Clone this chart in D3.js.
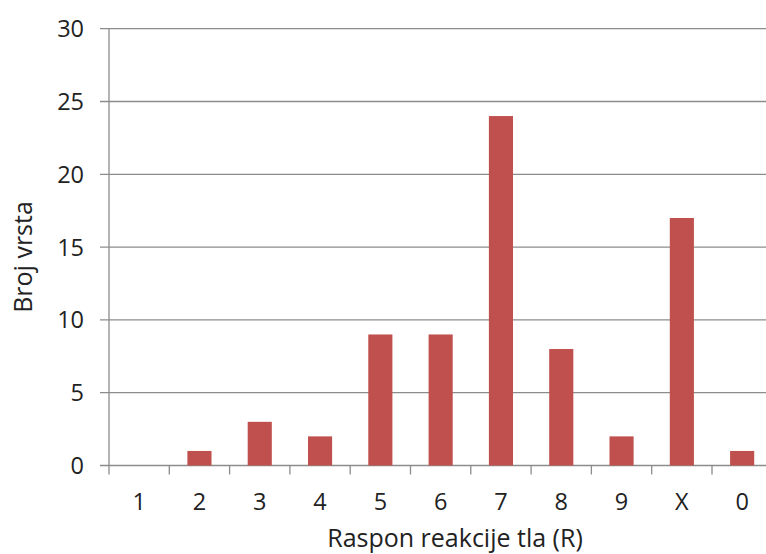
<!DOCTYPE html>
<html><head><meta charset="utf-8">
<script src="https://cdn.jsdelivr.net/npm/d3@7/dist/d3.min.js"></script>
<style>body{margin:0;background:#fff}svg{display:block}text{font-family:"Open Sans",Lato,sans-serif;fill:#222}</style>
</head><body>
<script>
const categories = ["1","2","3","4","5","6","7","8","9","X","0"];
const values = [0,1,3,2,9,9,24,8,2,17,1];
const yTicks = [0,5,10,15,20,25,30];
const xTitle = "Raspon reakcije tla (R)";
const yTitle = "Broj vrsta";

const W = 766, H = 554;
const m = {left:109, top:28.7, right:-6.3, bottom:554-465.5};
const svg = d3.select("body").append("svg").attr("width",W).attr("height",H);
const x = d3.scaleBand().domain(categories).range([m.left, W-m.right]).paddingInner(0.6).paddingOuter(0.3);
const y = d3.scaleLinear().domain([0,30]).range([H-m.bottom, m.top]);
const fs = 23.5, fsT = 25;

// gridlines
svg.append("g").selectAll("line").data(yTicks).join("line")
  .attr("x1", m.left-9).attr("x2", W-m.right).attr("y1", d=>y(d)).attr("y2", d=>y(d))
  .attr("stroke","#8c8c8c").attr("stroke-width",1.3);
// y axis line
svg.append("line").attr("x1",m.left).attr("x2",m.left).attr("y1",y(30)).attr("y2",y(0))
  .attr("stroke","#8c8c8c").attr("stroke-width",1.3);
// y labels
svg.append("g").selectAll("text").data(yTicks).join("text")
  .attr("x",84).attr("y",d=>y(d)).attr("dy","0.36em").attr("text-anchor","end")
  .attr("font-size",fs).text(d=>d);
// x ticks at band boundaries
const step = x.step();
const bounds = d3.range(categories.length+1).map(i=>m.left + i*step);
svg.append("g").selectAll("line").data(bounds).join("line")
  .attr("x1",d=>d).attr("x2",d=>d).attr("y1",y(0)).attr("y2",y(0)+9)
  .attr("stroke","#8c8c8c").attr("stroke-width",1.3);
// bars
svg.append("g").selectAll("rect").data(values).join("rect")
  .attr("x",(d,i)=>x(categories[i])).attr("width",x.bandwidth())
  .attr("y",d=>y(d)).attr("height",d=>y(0)-y(d)).attr("fill","#c0504d");
// x labels
svg.append("g").selectAll("text").data(categories).join("text")
  .attr("x",d=>x(d)+x.bandwidth()/2).attr("y",510).attr("text-anchor","middle")
  .attr("font-size",fs).text(d=>d);
// titles
svg.append("text").attr("x",455).attr("y",547).attr("text-anchor","middle").attr("font-size",fsT).text(xTitle);
svg.append("text").attr("transform","translate(32,257) rotate(-90)").attr("text-anchor","middle").attr("font-size",fsT).text(yTitle);
</script>
</body></html>
